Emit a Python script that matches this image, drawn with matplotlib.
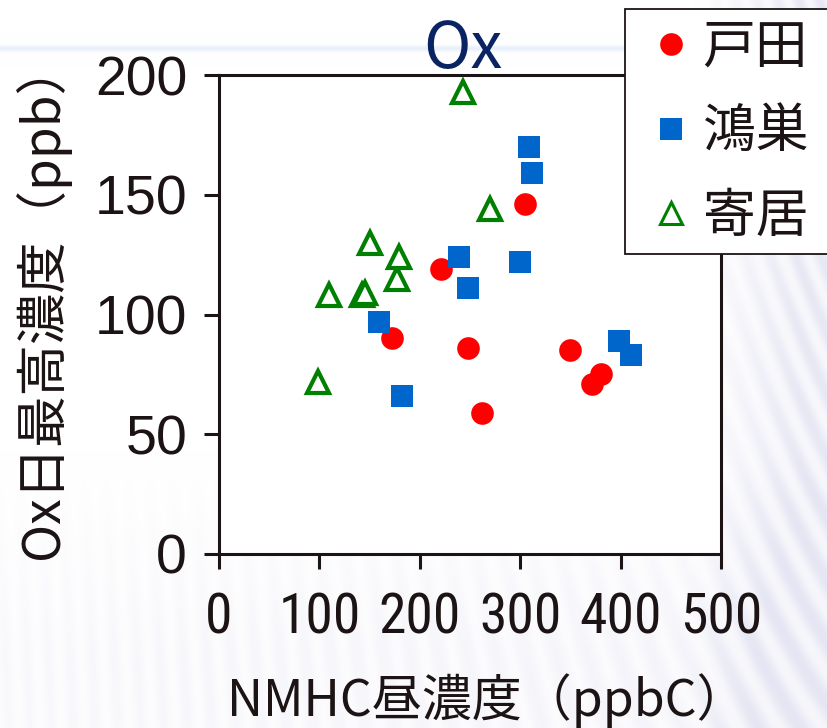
import numpy as np
import matplotlib
matplotlib.use("Agg")
import matplotlib.pyplot as plt
from matplotlib import font_manager

# --- data -----------------------------------------------------------------
toda_x = [172, 221, 248, 262, 305, 350, 372, 380]
toda_y = [90, 119, 86, 59, 146, 85, 71, 75]

konosu_x = [159, 182, 239, 248, 300, 309, 312, 398, 410]
konosu_y = [97, 66, 124, 111, 122, 170, 159, 89, 83]

yorii_x = [99, 110, 142, 145, 150, 177, 179, 243, 270]
yorii_y = [72, 108, 108, 109, 130, 115, 124, 193, 144]

series_names = ["戸田", "鴻巣", "寄居"]
x_ticks = [0, 100, 200, 300, 400, 500]
y_ticks = [0, 50, 100, 150, 200]

title = "Ox"
x_label = "NMHC昼濃度（ppbC）"
y_label = "Ox日最高濃度（ppb）"

# --- fonts ----------------------------------------------------------------
installed = {f.name for f in font_manager.fontManager.ttflist}
narrow = None
for cand in ["Liberation Sans Narrow", "Roboto Condensed", "Open Sans Condensed"]:
    if cand in installed:
        narrow = cand
        break
CJK = ["Noto Sans CJK JP", "DejaVu Sans"]
INK = "#1c1414"

W, H = 828, 728
fig = plt.figure(figsize=(W / 100, H / 100), dpi=100)

# --- slide-style background ----------------------------------------------
yy, xx = np.mgrid[0:H, 0:W].astype(float)
def ramp(v):
    return np.clip(v, 0, 1)
slope = 0.04 + 0.30 * (xx / W) ** 2
stripe = 0.5 + 0.5 * np.cos(2 * np.pi * (xx - slope * yy) / 21.0)
amp = 0.09 * ramp((xx - 690) / 110) + 0.04 * ramp((yy - 450) / 200) * (0.6 + 0.6 * xx / W)
amp = np.minimum(amp, 0.10)
shade = amp * (0.35 + 0.65 * stripe)
bg = np.ones((H, W, 3))
bg[..., 0] -= shade
bg[..., 1] -= shade
bg[..., 2] -= shade * 0.45
band = np.exp(-((yy - 48.0) / 3.0) ** 2)
bg[..., 0] -= 0.09 * band
bg[..., 1] -= 0.06 * band
bg[..., 2] -= 0.02 * band
bg = np.clip(bg, 0, 1)
bg_ax = fig.add_axes([0, 0, 1, 1], zorder=-5)
bg_ax.imshow(bg, aspect="auto", interpolation="bilinear")
bg_ax.axis("off")

# --- main axes ------------------------------------------------------------
ax = fig.add_axes([219 / W, 1 - 554 / H, (721 - 219) / W, (554 - 75) / H], zorder=1)
ax.set_facecolor("white")

ax.plot(toda_x, toda_y, linestyle="none", marker="o", markersize=16.3,
        markerfacecolor="#ff0000", markeredgewidth=0, label=series_names[0])
ax.plot(konosu_x, konosu_y, linestyle="none", marker="s", markersize=16.0,
        markerfacecolor="#0066cc", markeredgewidth=0, label=series_names[1])
ax.plot(yorii_x, yorii_y, linestyle="none", marker="^", markersize=16.3,
        markerfacecolor="white", markeredgecolor="#008000", markeredgewidth=3.0,
        label=series_names[2])

ax.set_xlim(0, 500)
ax.set_ylim(0, 200)
ax.set_xticks(x_ticks)
ax.set_yticks(y_ticks)
for s in ax.spines.values():
    s.set_linewidth(2.2)
    s.set_color(INK)
ax.tick_params(axis="both", direction="out", length=11, width=2.2, color=INK,
               labelcolor=INK)
ax.tick_params(axis="y", pad=12)
ax.tick_params(axis="x", pad=16)
for lab in ax.get_yticklabels():
    lab.set_fontfamily("Liberation Sans")
    lab.set_fontsize(40)
for lab in ax.get_xticklabels():
    if narrow:
        lab.set_fontfamily(narrow)
        lab.set_fontsize(40)
    else:
        lab.set_fontfamily("Liberation Sans")
        lab.set_fontsize(35)

# --- titles ---------------------------------------------------------------
fig.text(463 / W, 1 - 50 / H, title, ha="center", va="center", fontsize=46,
         color="#0a2463", family=CJK)
fig.text(487 / W, 1 - 701 / H, x_label, ha="center", va="center", fontsize=36,
         color=INK, family=CJK)
fig.text(42 / W, 1 - 300 / H, y_label, ha="center", va="center", fontsize=37,
         color=INK, family=CJK, rotation=90)

# --- legend ---------------------------------------------------------------
leg = ax.legend(loc="upper left", mode="expand",
                bbox_to_anchor=(625 / W, 1 - 252 / H, 0.35, 243 / H),
                bbox_transform=fig.transFigure,
                prop={"family": CJK, "size": 38}, frameon=True, fancybox=False,
                borderpad=0.2, handlelength=1.35, handletextpad=-0.08,
                labelspacing=0.56, borderaxespad=0, markerscale=1.0)
leg.get_frame().set_edgecolor(INK)
leg.get_frame().set_linewidth(1.3)
leg.get_frame().set_facecolor("white")
leg.get_frame().set_alpha(1)
leg.set_zorder(5)
for t in leg.get_texts():
    t.set_color(INK)
leg.legend_handles[2].set_markeredgewidth(2.2)

fig.savefig("out.png", dpi=100)
